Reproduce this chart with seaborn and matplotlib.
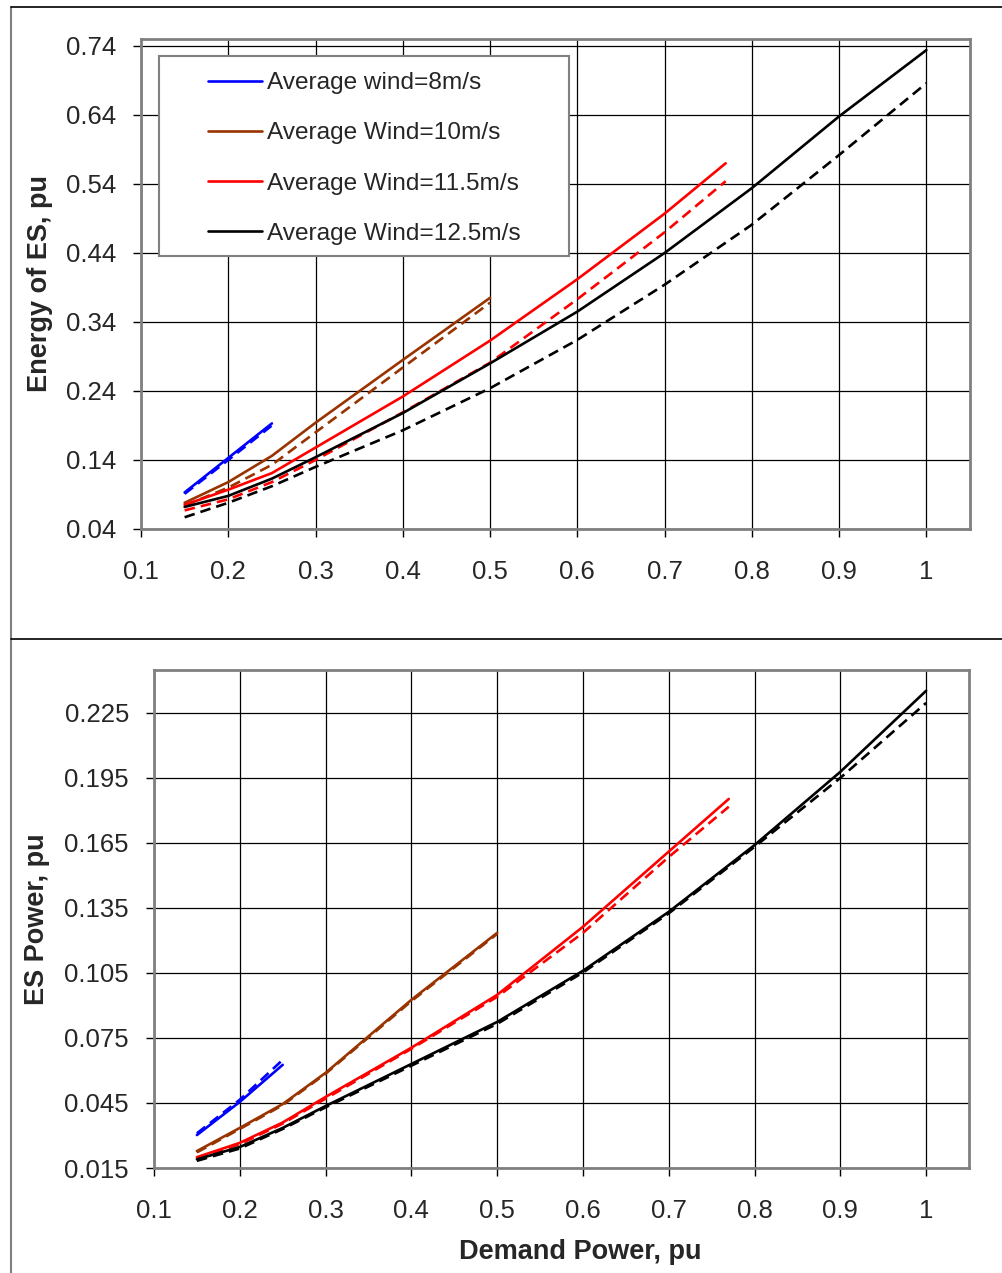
import matplotlib
matplotlib.use('Agg')
import matplotlib.pyplot as plt
from matplotlib.lines import Line2D
from matplotlib.patches import Rectangle
import seaborn as sns

# demand power points (pu) for each wind case
x_8 = [0.15, 0.2, 0.25]
x_10 = [0.15, 0.2, 0.25, 0.3, 0.4, 0.5]
x_115 = [0.15, 0.2, 0.25, 0.3, 0.4, 0.5, 0.6, 0.7, 0.77]
x_125 = [0.15, 0.2, 0.25, 0.3, 0.4, 0.5, 0.6, 0.7, 0.8, 0.9, 1.0]

# energy of ES (solid / dashed)
energy_8 = [0.093, 0.143, 0.193]
energy_8_d = [0.091, 0.140, 0.190]
energy_10 = [0.078, 0.108, 0.146, 0.194, 0.285, 0.375]
energy_10_d = [0.074, 0.100, 0.133, 0.180, 0.274, 0.368]
energy_115 = [0.075, 0.097, 0.121, 0.158, 0.232, 0.313, 0.402, 0.497, 0.570]
energy_115_d = [0.067, 0.083, 0.108, 0.140, 0.209, 0.281, 0.373, 0.470, 0.544]
energy_125 = [0.072, 0.088, 0.113, 0.144, 0.208, 0.280, 0.355, 0.440, 0.534, 0.638, 0.734]
energy_125_d = [0.057, 0.078, 0.102, 0.130, 0.183, 0.244, 0.314, 0.394, 0.481, 0.582, 0.686]

# ES power (solid / dashed)
power_8 = [0.0302, 0.0455, 0.0626]
power_8_d = [0.0310, 0.0465, 0.0649]
power_10 = [0.0228, 0.0335, 0.0445, 0.0589, 0.0926, 0.1235]
power_10_d = [0.0222, 0.0330, 0.0440, 0.0585, 0.0920, 0.1230]
power_115 = [0.0200, 0.0266, 0.0360, 0.0478, 0.0705, 0.0949, 0.1263, 0.1610, 0.1853]
power_115_d = [0.0195, 0.0260, 0.0355, 0.0470, 0.0700, 0.0940, 0.1235, 0.1585, 0.1817]
power_125 = [0.0190, 0.0247, 0.0335, 0.0436, 0.0630, 0.0824, 0.1060, 0.1332, 0.1640, 0.1978, 0.2352]
power_125_d = [0.0183, 0.0240, 0.0330, 0.0430, 0.0622, 0.0815, 0.1052, 0.1325, 0.1632, 0.1950, 0.2296]

labels = ['Average wind=8m/s', 'Average Wind=10m/s',
          'Average Wind=11.5m/s', 'Average Wind=12.5m/s']
colors = ['#0000FF', '#993300', '#FF0000', '#000000']

x_ticks = [0.1, 0.2, 0.3, 0.4, 0.5, 0.6, 0.7, 0.8, 0.9, 1.0]
x_ticklabels = ['0.1', '0.2', '0.3', '0.4', '0.5', '0.6', '0.7', '0.8', '0.9', '1']
energy_ticks = [0.04, 0.14, 0.24, 0.34, 0.44, 0.54, 0.64, 0.74]
energy_ticklabels = ['0.04', '0.14', '0.24', '0.34', '0.44', '0.54', '0.64', '0.74']
power_ticks = [0.015, 0.045, 0.075, 0.105, 0.135, 0.165, 0.195, 0.225]
power_ticklabels = ['0.015', '0.045', '0.075', '0.105', '0.135', '0.165', '0.195', '0.225']

sns.set_style('white')
plt.rcParams['font.family'] = ['Liberation Sans', 'DejaVu Sans']

W, H = 1003, 1273
fig = plt.figure(figsize=(W / 100, H / 100), dpi=100)
ax1 = fig.add_axes([141 / W, 1 - 529 / H, 829 / W, 490 / H])
ax2 = fig.add_axes([154 / W, 1 - 1168 / H, 815 / W, 498 / H])

xs_all = [x_8, x_10, x_115, x_125]
dash = (0, (4, 2.3))


def draw_panel(ax, solid, dashed, ylim, yticks, yticklabels):
    for xs, ys, yd, c in zip(xs_all, solid, dashed, colors):
        sns.lineplot(x=xs, y=ys, color=c, lw=1.9, ax=ax)
        sns.lineplot(x=xs, y=yd, color=c, lw=1.9, linestyle=dash, ax=ax)
    ax.set_xlim(0.1, 1.05)
    ax.set_ylim(*ylim)
    ax.set_xticks(x_ticks)
    ax.set_xticklabels(x_ticklabels)
    ax.set_yticks(yticks)
    ax.set_yticklabels(yticklabels)
    ax.grid(True, color='black', lw=0.9)
    ax.set_axisbelow(True)
    for s in ax.spines.values():
        s.set_color('#808080')
        s.set_linewidth(2)
    ax.tick_params(direction='out', length=6, width=1, color='black',
                   labelsize=18.5, bottom=True, left=True)
    ax.tick_params(axis='y', pad=12)
    ax.tick_params(axis='x', pad=16)
    ax.set_xlabel('')
    ax.set_ylabel('')


draw_panel(ax1, [energy_8, energy_10, energy_115, energy_125],
           [energy_8_d, energy_10_d, energy_115_d, energy_125_d],
           (0.04, 0.7501), energy_ticks, energy_ticklabels)
draw_panel(ax2, [power_8, power_10, power_115, power_125],
           [power_8_d, power_10_d, power_115_d, power_125_d],
           (0.015, 0.2448), power_ticks, power_ticklabels)

ax1.set_ylabel('Energy of ES, pu', fontsize=19.5, fontweight='bold',
               va='center', ha='center')
ax1.yaxis.set_label_coords(-0.122, 0.5)
ax2.set_ylabel('ES Power, pu', fontsize=19.5, fontweight='bold',
               va='center', ha='center')
ax2.yaxis.set_label_coords(-0.1436, 0.5)
ax2.set_xlabel('Demand Power, pu', fontsize=19.5, fontweight='bold',
               va='center', ha='center')
ax2.xaxis.set_label_coords(0.523, -0.169)

# legend box
box = Rectangle((159 / W, 1 - 256 / H), 410 / W, 200 / H, transform=fig.transFigure,
                facecolor='white', edgecolor='#808080', lw=1.5, zorder=4)
ax1.add_patch(box)
handles = [Line2D([], [], color=c, lw=1.9) for c in colors]
leg = ax1.legend(handles, labels, loc='upper left', bbox_to_anchor=(208 / W, 1 - 72 / H),
                 bbox_transform=fig.transFigure, frameon=False, fontsize=17.6,
                 handlelength=2.2, handletextpad=0.2, labelspacing=1.15,
                 borderaxespad=0, borderpad=0)
leg.set_zorder(5)
ax1.set_xlim(0.1, 1.05)
ax1.set_ylim(0.04, 0.7501)

# chart area borders
fig.add_artist(Line2D([11 / W, 11 / W], [0, 1 - 7 / H], transform=fig.transFigure,
                      color='#808080', lw=1.5))
fig.add_artist(Line2D([11 / W, 1], [1 - 7 / H, 1 - 7 / H], transform=fig.transFigure,
                      color='black', lw=1.2))
fig.add_artist(Line2D([11 / W, 1], [1 - 639 / H, 1 - 639 / H], transform=fig.transFigure,
                      color='black', lw=1.2))

fig.savefig('out.png', dpi=100)
